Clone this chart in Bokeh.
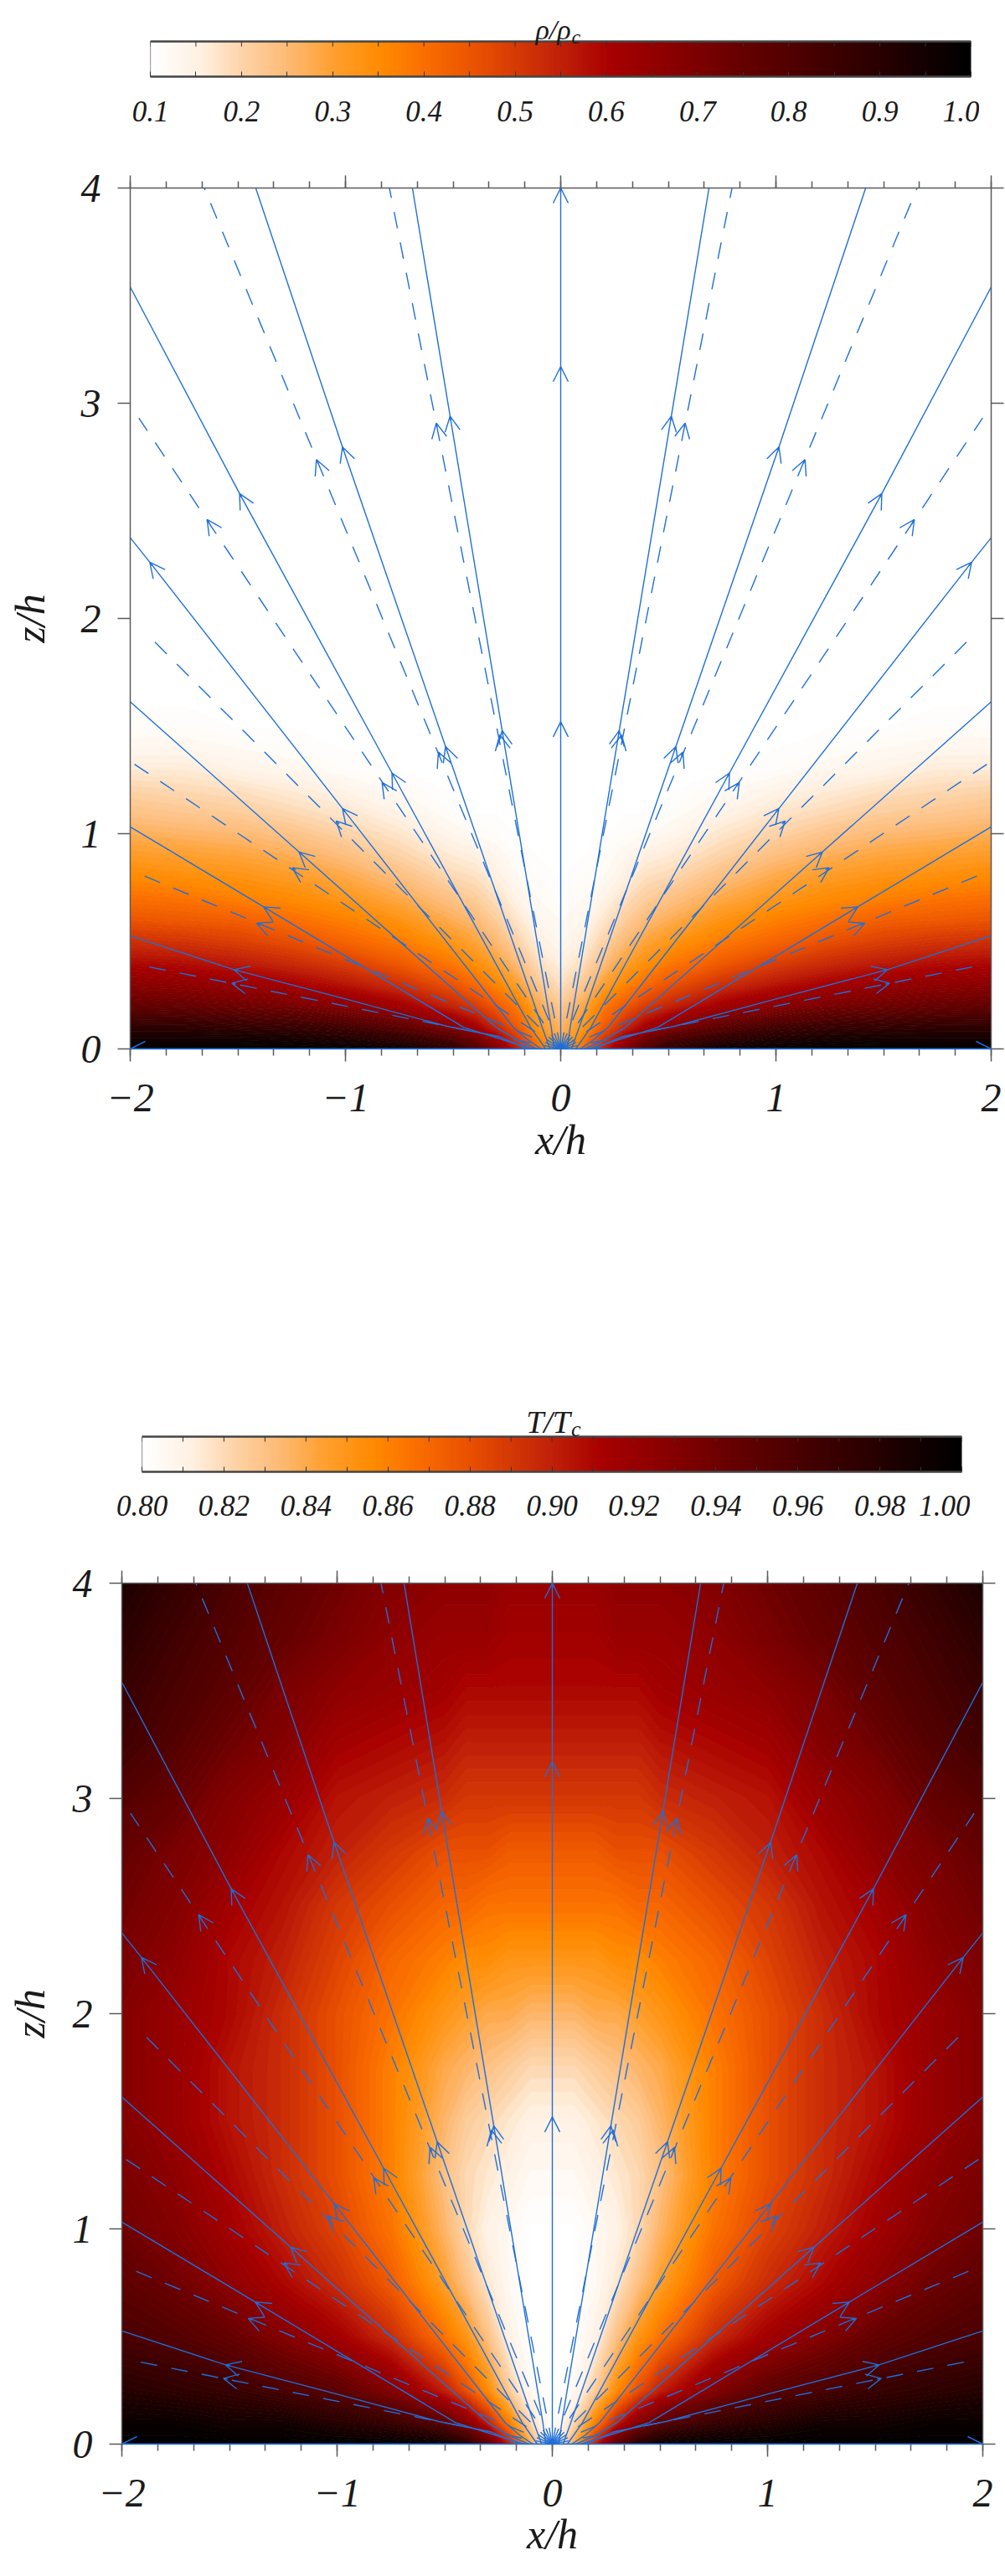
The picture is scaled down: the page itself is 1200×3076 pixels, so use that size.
import numpy as np
from bokeh.plotting import figure
from bokeh.models import (Range1d, LinearAxis, LinearColorMapper, Label, Arrow, OpenHead,
                          ColumnDataSource, FixedTicker, SingleIntervalTicker, Grid)
from bokeh.layouts import column
from bokeh.embed import file_html
from bokeh.resources import INLINE

# ------------------------------------------------------------------ data
X_TICKS = [-2, -1, 0, 1, 2]
X_TICK_LABELS = ["\u22122", "\u22121", "0", "1", "2"]
Z_TICKS = [0, 1, 2, 3, 4]
Z_TICK_LABELS = ["0", "1", "2", "3", "4"]

RHO_TICKS = [0.1, 0.2, 0.3, 0.4, 0.5, 0.6, 0.7, 0.8, 0.9, 1.0]
RHO_TICK_LABELS = ["0.1", "0.2", "0.3", "0.4", "0.5", "0.6", "0.7", "0.8", "0.9", "1.0"]
T_TICKS = [0.80, 0.82, 0.84, 0.86, 0.88, 0.90, 0.92, 0.94, 0.96, 0.98, 1.00]
T_TICK_LABELS = ["0.80", "0.82", "0.84", "0.86", "0.88", "0.90", "0.92", "0.94", "0.96", "0.98", "1.00"]

# colour table (fraction of the colour-bar range -> colour)
PAL_POS = [0.0, 0.06, 0.11, 0.17, 0.22, 0.28, 0.33, 0.39, 0.44, 0.50,
           0.56, 0.61, 0.67, 0.72, 0.78, 0.83, 0.89, 0.94, 1.0]
PAL_HEX = ["#ffffff", "#fff0e0", "#fdd3a8", "#fdb870", "#ffa030", "#ff8a00", "#fb7000",
           "#ec5400", "#d83c04", "#c02008", "#a80000", "#940000", "#7c0000", "#660000",
           "#520000", "#3e0000", "#2a0000", "#160000", "#000000"]

# field samples on the half plane x >= 0 (the figure is mirror-symmetric about x = 0)
GRID_X_HALF = [0.0, 0.1, 0.2, 0.3, 0.4, 0.5, 0.75, 1.0, 1.25, 1.5, 1.75, 2.0]

RHO_Z = [0.0, 0.05, 0.1, 0.2, 0.3, 0.4, 0.5, 0.6, 0.7, 0.8, 0.9, 1.0,
         1.1, 1.2, 1.3, 1.4, 1.5, 1.6, 1.8, 2.0]
RHO_ROWS = [
    [0.30, 0.40, 0.55, 0.70, 0.82, 0.90, 0.97, 0.99, 1.00, 1.00, 1.00, 1.00],
    [0.28, 0.36, 0.50, 0.62, 0.72, 0.80, 0.88, 0.92, 0.94, 0.95, 0.95, 0.95],
    [0.26, 0.32, 0.44, 0.54, 0.62, 0.68, 0.78, 0.84, 0.87, 0.88, 0.89, 0.89],
    [0.22, 0.28, 0.38, 0.44, 0.50, 0.54, 0.62, 0.67, 0.71, 0.73, 0.75, 0.76],
    [0.18, 0.22, 0.30, 0.36, 0.41, 0.45, 0.52, 0.57, 0.61, 0.64, 0.66, 0.67],
    [0.15, 0.18, 0.24, 0.30, 0.34, 0.38, 0.44, 0.49, 0.53, 0.56, 0.58, 0.59],
    [0.13, 0.15, 0.20, 0.25, 0.29, 0.32, 0.38, 0.42, 0.46, 0.49, 0.51, 0.52],
    [0.12, 0.13, 0.17, 0.21, 0.25, 0.27, 0.33, 0.37, 0.40, 0.43, 0.44, 0.45],
    [0.11, 0.12, 0.14, 0.18, 0.21, 0.23, 0.28, 0.32, 0.35, 0.37, 0.39, 0.40],
    [0.10, 0.11, 0.12, 0.15, 0.18, 0.19, 0.24, 0.28, 0.31, 0.33, 0.34, 0.35],
    [0.10, 0.10, 0.11, 0.13, 0.15, 0.16, 0.20, 0.24, 0.27, 0.29, 0.30, 0.31],
    [0.10, 0.10, 0.10, 0.11, 0.12, 0.13, 0.17, 0.20, 0.23, 0.25, 0.26, 0.27],
    [0.10, 0.10, 0.10, 0.10, 0.10, 0.11, 0.14, 0.17, 0.19, 0.21, 0.22, 0.23],
    [0.10, 0.10, 0.10, 0.10, 0.10, 0.10, 0.12, 0.14, 0.16, 0.18, 0.19, 0.20],
    [0.10, 0.10, 0.10, 0.10, 0.10, 0.10, 0.10, 0.11, 0.13, 0.14, 0.16, 0.16],
    [0.10, 0.10, 0.10, 0.10, 0.10, 0.10, 0.10, 0.10, 0.11, 0.12, 0.13, 0.13],
    [0.10, 0.10, 0.10, 0.10, 0.10, 0.10, 0.10, 0.10, 0.10, 0.10, 0.11, 0.11],
    [0.10, 0.10, 0.10, 0.10, 0.10, 0.10, 0.10, 0.10, 0.10, 0.10, 0.10, 0.10],
    [0.10, 0.10, 0.10, 0.10, 0.10, 0.10, 0.10, 0.10, 0.10, 0.10, 0.10, 0.10],
    [0.10, 0.10, 0.10, 0.10, 0.10, 0.10, 0.10, 0.10, 0.10, 0.10, 0.10, 0.10],
]

T_Z = [0.0, 0.1, 0.25, 0.5, 0.75, 1.0, 1.25, 1.5, 1.75, 2.0,
       2.25, 2.5, 2.75, 3.0, 3.25, 3.5, 3.75, 4.0]
T_ROWS = [
    [0.800, 0.840, 0.900, 0.950, 0.980, 0.995, 1.000, 1.000, 1.000, 1.000, 1.000, 1.000],
    [0.800, 0.820, 0.860, 0.900, 0.930, 0.950, 0.970, 0.980, 0.990, 0.990, 0.995, 0.995],
    [0.800, 0.805, 0.825, 0.855, 0.880, 0.900, 0.930, 0.950, 0.960, 0.970, 0.975, 0.980],
    [0.800, 0.800, 0.810, 0.830, 0.850, 0.865, 0.895, 0.915, 0.930, 0.945, 0.955, 0.960],
    [0.800, 0.800, 0.805, 0.815, 0.830, 0.845, 0.875, 0.895, 0.910, 0.925, 0.940, 0.950],
    [0.800, 0.800, 0.805, 0.810, 0.820, 0.835, 0.865, 0.885, 0.900, 0.915, 0.930, 0.940],
    [0.805, 0.805, 0.810, 0.815, 0.820, 0.830, 0.860, 0.880, 0.895, 0.910, 0.925, 0.935],
    [0.810, 0.810, 0.815, 0.820, 0.825, 0.835, 0.860, 0.880, 0.895, 0.905, 0.920, 0.930],
    [0.820, 0.820, 0.825, 0.830, 0.835, 0.840, 0.860, 0.880, 0.895, 0.905, 0.920, 0.930],
    [0.835, 0.835, 0.840, 0.840, 0.845, 0.850, 0.865, 0.880, 0.895, 0.910, 0.920, 0.930],
    [0.850, 0.850, 0.850, 0.855, 0.855, 0.860, 0.870, 0.885, 0.900, 0.910, 0.925, 0.935],
    [0.865, 0.865, 0.865, 0.865, 0.870, 0.870, 0.880, 0.890, 0.905, 0.915, 0.930, 0.940],
    [0.875, 0.875, 0.875, 0.880, 0.880, 0.880, 0.890, 0.900, 0.910, 0.925, 0.935, 0.945],
    [0.890, 0.890, 0.890, 0.890, 0.890, 0.895, 0.900, 0.905, 0.920, 0.930, 0.945, 0.955],
    [0.900, 0.900, 0.900, 0.900, 0.900, 0.905, 0.910, 0.915, 0.930, 0.940, 0.955, 0.965],
    [0.910, 0.910, 0.910, 0.910, 0.910, 0.915, 0.920, 0.925, 0.935, 0.950, 0.960, 0.970],
    [0.915, 0.915, 0.915, 0.920, 0.920, 0.920, 0.925, 0.935, 0.945, 0.955, 0.965, 0.978],
    [0.920, 0.920, 0.920, 0.925, 0.925, 0.925, 0.930, 0.940, 0.950, 0.960, 0.972, 0.985],
]

# field lines (solid), right half; mirrored for x < 0
SOLID_X = [
    [0.0, 2.0],
    [0.03, 0.044, 0.272, 0.514, 0.689],
    [0.05, 0.086, 0.535, 1.014, 1.417],
    [0.07, 0.14, 0.784, 1.492, 2.0],
    [0.09, 0.15, 0.22, 1.014, 1.909, 2.0],
    [0.11, 0.20, 0.30, 1.216, 2.0],
    [0.13, 0.26, 0.45, 1.38, 2.0],
    [0.154, 0.283, 0.528, 1.003, 1.518, 2.0],
]
SOLID_Z = [
    [0.0, 0.0],
    [0.0, 0.1, 1.479, 2.94, 4.0],
    [0.0, 0.1, 1.405, 2.797, 4.0],
    [0.0, 0.1, 1.282, 2.58, 3.54],
    [0.0, 0.04, 0.1, 1.117, 2.261, 2.375],
    [0.0, 0.04, 0.1, 0.915, 1.613],
    [0.0, 0.04, 0.1, 0.66, 1.032],
    [0.0, 0.056, 0.105, 0.233, 0.368, 0.526],
]
AXIS_LINE_X = [0.0, 0.0]
AXIS_LINE_Z = [0.0, 4.0]
AXIS_ARROW_Z = [1.52, 3.17, 4.0]

SOLID_ARROW_LINE = [0, 1, 1, 2, 2, 3, 3, 4, 4, 5, 6, 7]
SOLID_ARROW_X = [2.0, 0.272, 0.514, 0.535, 1.014, 0.784, 1.492, 1.014, 1.909, 1.216, 1.38, 1.518]
SOLID_ARROW_Z = [0.0, 1.479, 2.94, 1.405, 2.797, 1.282, 2.58, 1.117, 2.261, 0.915, 0.66, 0.368]

# flow lines (dashed): straight rays from the origin, right half
DASH_X_END = [0.796, 1.656, 1.96, 1.931, 2.0, 1.967, 1.967]
DASH_Z_END = [4.0, 4.0, 2.931, 1.936, 1.336, 0.817, 0.392]
DASH_ARROW_LINE = [0, 0, 1, 1, 2, 2, 3, 4, 5, 6]
DASH_ARROW_X = [0.283, 0.578, 0.568, 1.135, 0.830, 1.643, 1.043, 1.247, 1.413, 1.528]
DASH_ARROW_Z = [1.459, 2.908, 1.379, 2.738, 1.238, 2.46, 1.059, 0.842, 0.584, 0.305]

# ------------------------------------------------------------------ style
FONT = "Liberation Serif"
BLUE = "#1f6fd9"
TXT = "#1a1a1a"
AX = "#5a5a5a"
NPAL = 256
BAR_PX = 42


def make_palette(n=NPAL):
    rgb = np.array([[int(h[i:i + 2], 16) for i in (1, 3, 5)] for h in PAL_HEX], float)
    t = np.linspace(0, 1, n)
    cols = np.stack([np.interp(t, PAL_POS, rgb[:, k]) for k in range(3)], axis=1)
    return ["#%02x%02x%02x" % tuple(int(round(v)) for v in c) for c in cols]


PALETTE = make_palette()
RHO_MAPPER = LinearColorMapper(palette=PALETTE, low=RHO_TICKS[0], high=RHO_TICKS[-1])
T_MAPPER = LinearColorMapper(palette=PALETTE, low=T_TICKS[0], high=T_TICKS[-1])


def colour_of(v, lo, hi):
    i = int(round((v - lo) / (hi - lo) * (NPAL - 1)))
    return PALETTE[min(max(i, 0), NPAL - 1)]


def mirror(rows):
    return np.array([list(r[::-1]) + list(r[1:]) for r in rows], dtype=float)


def tangent(xs, zs, px, pz):
    best, bdir = 1e9, (0.0, 1.0)
    for i in range(len(xs) - 1):
        vx, vz = xs[i + 1] - xs[i], zs[i + 1] - zs[i]
        L2 = vx * vx + vz * vz
        t = min(max(((px - xs[i]) * vx + (pz - zs[i]) * vz) / L2, 0.0), 1.0)
        d = np.hypot(xs[i] + t * vx - px, zs[i] + t * vz - pz)
        if d < best:
            best, bdir = d, (vx / np.sqrt(L2), vz / np.sqrt(L2))
    return bdir


def arrow_source(lines_x, lines_z, idx, ax_, az_, both_sides=True):
    x0, y0, x1, y1 = [], [], [], []
    for li, px, pz in zip(idx, ax_, az_):
        dx, dz = tangent(lines_x[li], lines_z[li], px, pz)
        sides = (1, -1) if (both_sides and px != 0) else (1,)
        for s in sides:
            x1.append(s * px); y1.append(pz)
            x0.append(s * (px - 0.02 * dx)); y0.append(pz - 0.02 * dz)
    return ColumnDataSource(dict(x0=x0, y0=y0, x1=x1, y1=y1))


def add_arrows(p, src):
    p.add_layout(Arrow(source=src, x_start="x0", y_start="y0", x_end="x1", y_end="y1",
                       line_color=BLUE, line_width=1.4,
                       end=OpenHead(size=18, line_color=BLUE, line_width=1.4)))


def prepare(p):
    p.center = [r for r in p.center if not isinstance(r, Grid)]
    try:
        p.frame_align = False   # keep each frame where its own borders put it
    except Exception:
        pass


def colorbar_fig(lo, hi, ticks, labels, mapper, title, left, frame_w, top, title_room,
                 bottom, standoff, size, sub_size, x_off, base_off, sub_off):
    ymax = (BAR_PX + title_room) / BAR_PX
    p = figure(frame_width=frame_w, frame_height=BAR_PX + title_room, x_range=Range1d(lo, hi),
               y_range=Range1d(0, ymax), output_backend="svg", toolbar_location=None,
               x_axis_location=None, y_axis_location=None,
               min_border_left=left, min_border_right=10, min_border_top=top,
               min_border_bottom=bottom, outline_line_color=None,
               background_fill_color="white", border_fill_color="white")
    prepare(p)
    grad = np.linspace(lo, hi, 600).reshape(1, -1)
    p.image(image=[grad], x=lo, y=0, dw=hi - lo, dh=1, color_mapper=mapper)
    p.quad(left=[lo], right=[hi], bottom=[0], top=[1], fill_color=None,
           line_color="#444444", line_width=1.2)
    p.segment(x0=[lo], y0=[1], x1=[hi], y1=[1], line_color="#444444", line_width=2.5)
    minor = [(a + b) / 2 for a, b in zip(ticks[:-1], ticks[1:])]
    allt = list(ticks) + minor
    tl = 6 / BAR_PX
    p.segment(x0=allt, y0=[1] * len(allt), x1=allt, y1=[1 - tl] * len(allt),
              line_color="#333333", line_width=1)

    ax = LinearAxis(ticker=FixedTicker(ticks=ticks, minor_ticks=minor))
    ax.major_tick_in = 6
    ax.major_tick_out = 0
    ax.minor_tick_in = 6
    ax.minor_tick_out = 0
    ax.axis_line_color = "#444444"
    ax.axis_line_width = 2.5
    ax.major_tick_line_color = "#333333"
    ax.minor_tick_line_color = "#333333"
    ax.major_label_overrides = {t: l for t, l in zip(ticks, labels)}
    ax.major_label_text_font = FONT
    ax.major_label_text_font_style = "italic"
    ax.major_label_text_font_size = "35px"
    ax.major_label_text_color = TXT
    ax.major_label_standoff = standoff
    p.add_layout(ax, "below")

    xc = (lo + hi) / 2
    p.add_layout(Label(x=xc, y=1, x_offset=x_off, y_offset=base_off, text=title,
                       text_align="right", text_baseline="alphabetic", text_font=FONT,
                       text_font_style="italic", text_font_size=size, text_color=TXT))
    p.add_layout(Label(x=xc, y=1, x_offset=x_off + 1, y_offset=sub_off, text="c",
                       text_align="left", text_baseline="alphabetic", text_font=FONT,
                       text_font_style="italic", text_font_size=sub_size, text_color=TXT))
    return p


def style_axis(ax, show_labels, overrides=None):
    ax.axis_line_color = AX
    ax.axis_line_width = 1.5
    ax.major_tick_line_color = AX
    ax.minor_tick_line_color = AX
    ax.major_tick_line_width = 1.5
    ax.minor_tick_line_width = 1.5
    ax.major_tick_in = 0
    ax.major_tick_out = 15
    ax.minor_tick_in = 0
    ax.minor_tick_out = 8
    if show_labels:
        ax.major_label_overrides = overrides
        ax.major_label_text_font = FONT
        ax.major_label_text_font_style = "italic"
        ax.major_label_text_font_size = "48px"
        ax.major_label_text_color = TXT
        ax.axis_label_text_font = FONT
        ax.axis_label_text_font_style = "italic"
        ax.axis_label_text_font_size = "50px"
        ax.axis_label_text_color = TXT
    else:
        ax.major_label_text_font_size = "1px"
        ax.major_label_text_color = None
        ax.major_label_standoff = 0


def field_fig(rows, zs, lo, hi, step, left, top, bottom, tick_standoff, xlab_standoff,
              zlab_standoff):
    p = figure(frame_width=1028, frame_height=1028, x_range=Range1d(-2, 2), y_range=Range1d(0, 4),
               output_backend="svg", toolbar_location=None,
               x_axis_location=None, y_axis_location=None,
               min_border_left=left, min_border_right=17, min_border_top=top,
               min_border_bottom=bottom, outline_line_color=None,
               background_fill_color="white", border_fill_color="white")
    prepare(p)
    gx = list(-np.array(GRID_X_HALF[::-1])) + GRID_X_HALF[1:]
    field = mirror(rows)
    n_lev = int(round((hi - lo) / step))
    levels = [lo + 0.0005 + k * step for k in range(n_lev + 1)]
    fills = [colour_of(0.5 * (a + b), lo, hi) for a, b in zip(levels[:-1], levels[1:])]
    lines = [colour_of(v, lo, hi) for v in levels]
    p.contour(x=gx, y=zs, z=field, levels=levels, fill_color=fills,
              line_color=lines, line_width=1.2)

    # streamlines
    sx = [list(-np.array(x)[::-1]) for x in SOLID_X] + [list(x) for x in SOLID_X] + [AXIS_LINE_X]
    sz = [list(np.array(z)[::-1]) for z in SOLID_Z] + [list(z) for z in SOLID_Z] + [AXIS_LINE_Z]
    p.multi_line(xs=sx, ys=sz, line_color=BLUE, line_width=1.4)
    dxs, dzs = [], []
    for xe, ze in zip(DASH_X_END, DASH_Z_END):
        dxs += [[0.0, xe], [0.0, -xe]]
        dzs += [[0.0, ze], [0.0, ze]]
    p.multi_line(xs=dxs, ys=dzs, line_color=BLUE, line_width=1.4, line_dash="20 17")

    add_arrows(p, arrow_source(SOLID_X, SOLID_Z, SOLID_ARROW_LINE, SOLID_ARROW_X, SOLID_ARROW_Z))
    dash_lx = [[0.0, xe] for xe in DASH_X_END]
    dash_lz = [[0.0, ze] for ze in DASH_Z_END]
    add_arrows(p, arrow_source(dash_lx, dash_lz, DASH_ARROW_LINE, DASH_ARROW_X, DASH_ARROW_Z))
    add_arrows(p, arrow_source([AXIS_LINE_X], [AXIS_LINE_Z], [0] * len(AXIS_ARROW_Z),
                               [0.0] * len(AXIS_ARROW_Z), AXIS_ARROW_Z, both_sides=False))

    b = LinearAxis(ticker=SingleIntervalTicker(interval=1, num_minor_ticks=6), axis_label="x/h")
    style_axis(b, True, {t: l for t, l in zip(X_TICKS, X_TICK_LABELS)})
    b.axis_line_color = BLUE
    b.major_label_standoff = tick_standoff
    b.axis_label_standoff = xlab_standoff
    a = LinearAxis(ticker=SingleIntervalTicker(interval=1, num_minor_ticks=6))
    style_axis(a, False)
    l = LinearAxis(ticker=SingleIntervalTicker(interval=1, num_minor_ticks=0), axis_label="z/h")
    style_axis(l, True, {t: s for t, s in zip(Z_TICKS, Z_TICK_LABELS)})
    l.major_label_standoff = 20
    l.axis_label_standoff = zlab_standoff
    r = LinearAxis(ticker=SingleIntervalTicker(interval=1, num_minor_ticks=0))
    style_axis(r, False)
    p.add_layout(b, "below")
    p.add_layout(a, "above")
    p.add_layout(l, "left")
    p.add_layout(r, "right")
    return p


# page positions (the Bokeh page has no body margin):
#   colour bar 1: bar x 179..1159, y 49..91     panel 1: frame x 155..1183, y 224..1252
#   colour bar 2: bar x 169..1148, y 1715..1757  panel 2: frame x 145..1173, y 1890..2918
cb1 = colorbar_fig(RHO_TICKS[0], RHO_TICKS[-1], RHO_TICKS, RHO_TICK_LABELS, RHO_MAPPER,
                   "\u03c1/\u03c1", left=179, frame_w=980, top=0, title_room=49, bottom=77,
                   standoff=29, size="34px", sub_size="24px", x_off=12, base_off=14, sub_off=6)
p1 = field_fig(RHO_ROWS, RHO_Z, RHO_TICKS[0], RHO_TICKS[-1], 0.01,
               left=155, top=56, bottom=180, tick_standoff=27, xlab_standoff=3,
               zlab_standoff=30)
cb2 = colorbar_fig(T_TICKS[0], T_TICKS[-1], T_TICKS, T_TICK_LABELS, T_MAPPER,
                   "T/T", left=169, frame_w=979, top=223, title_room=60, bottom=70,
                   standoff=28, size="38px", sub_size="26px", x_off=22, base_off=18, sub_off=9)
p2 = field_fig(T_ROWS, T_Z, T_TICKS[0], T_TICKS[-1], 0.0025,
               left=145, top=63, bottom=156, tick_standoff=27, xlab_standoff=2,
               zlab_standoff=20)

layout = column(cb1, p1, cb2, p2)
open("out.html", "w").write(file_html(layout, INLINE))
